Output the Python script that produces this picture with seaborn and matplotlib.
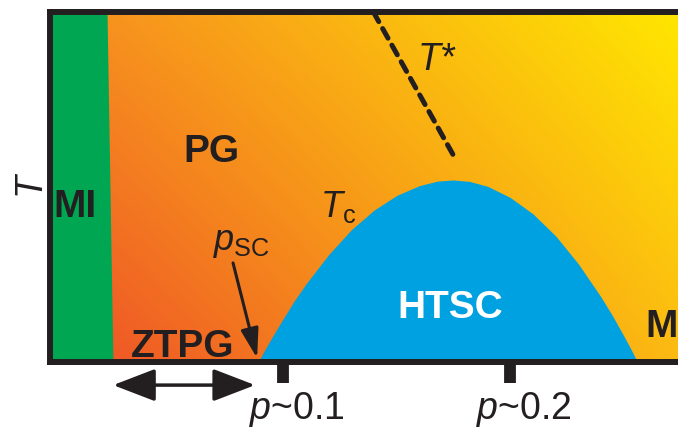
import numpy as np
import matplotlib
matplotlib.use('Agg')
import matplotlib.pyplot as plt
import matplotlib.transforms as mtransforms
import seaborn as sns

# superconducting dome: hole doping p vs Tc (T axis runs 0..1)
dome_p = [0.089, 0.092, 0.095, 0.100, 0.105, 0.110, 0.120, 0.130, 0.140, 0.150,
          0.160, 0.168, 0.175, 0.182, 0.190, 0.200, 0.210, 0.220, 0.230, 0.240,
          0.245, 0.250, 0.253, 0.256]
dome_tc = [0.0, 0.036, 0.070, 0.124, 0.176, 0.223, 0.307, 0.378, 0.434, 0.476,
           0.504, 0.517, 0.520, 0.516, 0.502, 0.470, 0.423, 0.360, 0.280, 0.185,
           0.132, 0.074, 0.038, 0.0]

# pseudogap line T*
tstar_p = [0.1397, 0.1749]
tstar_t = [1.0, 0.591]

# edge of the Mott insulator band
mi_t = [0.0, 1.0]
mi_p = [0.0250, 0.0224]

tick_pos = [0.1, 0.2]
tick_labels = [r'$p$~0.1', r'$p$~0.2']

sns.set_theme(style='white')
plt.rcParams['font.family'] = ['Liberation Sans', 'DejaVu Sans']
plt.rcParams['mathtext.fontset'] = 'custom'
plt.rcParams['mathtext.rm'] = 'Liberation Sans'
plt.rcParams['mathtext.it'] = 'Liberation Sans:italic'

ink = '#231f20'
fig = plt.figure(figsize=(6.78, 4.30), dpi=100)
ax = fig.add_axes([50 / 678, 68 / 430, 642 / 678, 350 / 430])

# orange -> yellow background
c_tl = np.array([247, 147, 30])
c_tr = np.array([255, 232, 0])
c_bl = np.array([239, 88, 38])
c_br = np.array([252, 188, 18])
s = np.linspace(0, 1, 200)[None, :, None]
t = np.linspace(0, 1, 200)[:, None, None]
top = c_tl + s * (c_tr - c_tl)
bot = c_bl + s * (c_br - c_bl)
img = (bot + t * (top - bot)) / 255
ax.imshow(img, extent=[0.0224, 0.28, 0, 1], origin='lower', aspect='auto', zorder=0)

ax.fill_betweenx(mi_t, -0.0027, mi_p, color='#00a651', lw=0, zorder=1)
ax.fill_between(dome_p, 0, dome_tc, color='#00a1e0', lw=0, zorder=2)

sns.lineplot(x=tstar_p, y=tstar_t, ax=ax, color=ink, lw=3.6,
             linestyle=(0, (2.2, 1.6)), dash_capstyle='round', zorder=3)

ax.set_xlim(-0.0027, 0.28)
ax.set_ylim(0, 1)

for side in ['top', 'left', 'bottom']:
    ax.spines[side].set_linewidth(4.3)
    ax.spines[side].set_color(ink)
ax.spines['right'].set_visible(False)

ax.set_yticks([])
ax.set_xticks(tick_pos, tick_labels)
ax.tick_params(axis='x', bottom=True, direction='out', length=15, width=8.5,
               color=ink, labelsize=27, labelcolor=ink, pad=5)
for lab in ax.get_xticklabels():
    lab.set_transform(lab.get_transform() +
                      mtransforms.ScaledTranslation(0.14, 0, fig.dpi_scale_trans))

ax.set_ylabel('T', fontsize=27, fontstyle='italic', color=ink)
ax.yaxis.set_label_coords(-0.004, 0.511)

bold = dict(fontsize=28, fontweight='bold', color=ink, va='baseline', zorder=4)
ax.text(0.0083, 0.414, 'MI', ha='center', **bold)
ax.text(0.0683, 0.571, 'PG', ha='center', **bold)
ax.text(0.0555, 0.014, 'ZTPG', ha='center', **bold)
ax.text(0.2595, 0.071, 'M', ha='left', **bold)
bold['color'] = 'white'
ax.text(0.1736, 0.126, 'HTSC', ha='center', **bold)

lab = dict(fontsize=26, color=ink, va='baseline', ha='left', zorder=4)
ax.text(0.1163, 0.414, r'$T_{\mathrm{c}}$', **lab)
ax.text(0.069, 0.32, r'$p_{\mathrm{SC}}$', **lab)
ax.text(0.159, 0.834, 'T*', fontsize=27, fontstyle='italic', color=ink,
        va='baseline', ha='left', zorder=4)

ax.annotate('', xy=(0.0885, 0.011), xytext=(0.0779, 0.283),
            arrowprops=dict(arrowstyle='-|>,head_length=18,head_width=5.4',
                            mutation_scale=1, lw=2.2, color=ink,
                            shrinkA=0, shrinkB=0))
ax.annotate('', xy=(0.0251, -0.066), xytext=(0.0876, -0.066),
            arrowprops=dict(arrowstyle='<|-|>,head_length=26,head_width=10',
                            mutation_scale=1, lw=2.5, color=ink,
                            shrinkA=0, shrinkB=0),
            annotation_clip=False)

fig.savefig('out.png', dpi=100)
